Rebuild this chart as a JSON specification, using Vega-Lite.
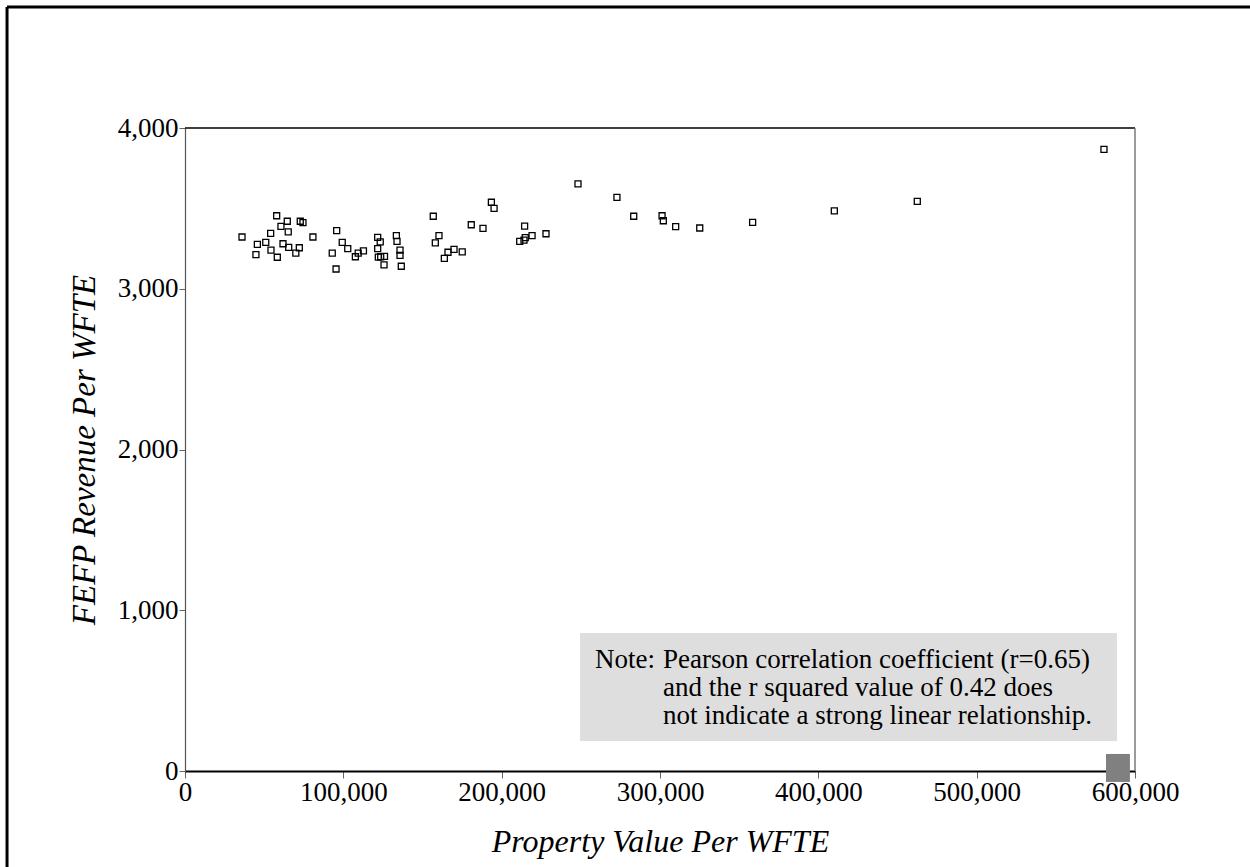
{
  "$schema": "https://vega.github.io/schema/vega-lite/v6.json",
  "width": 950,
  "height": 643,
  "autosize": {"type": "none"},
  "padding": {"left": 185, "top": 128, "right": 115, "bottom": 96},
  "background": "white",
  "config": {
    "view": {"stroke": null},
    "font": "Liberation Serif",
    "axis": {
      "grid": false,
      "labelFlush": false,
      "labelOverlap": false,
      "labelFont": "Liberation Serif",
      "labelFontSize": 27,
      "labelColor": "black",
      "labelPadding": 1,
      "labelExpr": "format(datum.value, ',')",
      "tickColor": "#666",
      "titleFont": "Liberation Serif",
      "titleFontStyle": "italic",
      "titleFontWeight": "normal",
      "titleFontSize": 32,
      "titleColor": "black"
    },
    "axisX": {"tickSize": 7, "domainColor": "black", "domainWidth": 2, "titlePadding": 21},
    "axisY": {"tickSize": 6, "domainColor": "#555", "domainWidth": 1.2, "titlePadding": 16, "titleFontSize": 33, "titleColor": "#000000"}
  },
  "data": {"values": [{}]},
  "datasets": {
    "pts": [
      {"value": 36000, "revenue": 3322},
      {"value": 57900, "revenue": 3454},
      {"value": 64600, "revenue": 3420},
      {"value": 60600, "revenue": 3388},
      {"value": 72800, "revenue": 3420},
      {"value": 74500, "revenue": 3411},
      {"value": 54100, "revenue": 3344},
      {"value": 65200, "revenue": 3354},
      {"value": 80800, "revenue": 3322},
      {"value": 45700, "revenue": 3276},
      {"value": 51000, "revenue": 3288},
      {"value": 61900, "revenue": 3280},
      {"value": 65500, "revenue": 3258},
      {"value": 72200, "revenue": 3255},
      {"value": 54300, "revenue": 3240},
      {"value": 70000, "revenue": 3221},
      {"value": 44800, "revenue": 3212},
      {"value": 58300, "revenue": 3196},
      {"value": 95800, "revenue": 3362},
      {"value": 99300, "revenue": 3288},
      {"value": 102800, "revenue": 3249},
      {"value": 93000, "revenue": 3221},
      {"value": 107600, "revenue": 3199},
      {"value": 109400, "revenue": 3221},
      {"value": 112700, "revenue": 3235},
      {"value": 95400, "revenue": 3123},
      {"value": 121700, "revenue": 3320},
      {"value": 123300, "revenue": 3291},
      {"value": 121700, "revenue": 3250},
      {"value": 122100, "revenue": 3197},
      {"value": 123600, "revenue": 3199},
      {"value": 126000, "revenue": 3201},
      {"value": 125700, "revenue": 3148},
      {"value": 133500, "revenue": 3330},
      {"value": 133900, "revenue": 3295},
      {"value": 135800, "revenue": 3240},
      {"value": 135800, "revenue": 3208},
      {"value": 136600, "revenue": 3140},
      {"value": 156800, "revenue": 3451},
      {"value": 160400, "revenue": 3330},
      {"value": 158100, "revenue": 3286},
      {"value": 169900, "revenue": 3245},
      {"value": 166100, "revenue": 3227},
      {"value": 163800, "revenue": 3189},
      {"value": 175100, "revenue": 3229},
      {"value": 180800, "revenue": 3398},
      {"value": 188200, "revenue": 3376},
      {"value": 193500, "revenue": 3538},
      {"value": 195200, "revenue": 3500},
      {"value": 214500, "revenue": 3390},
      {"value": 219200, "revenue": 3330},
      {"value": 228000, "revenue": 3342},
      {"value": 211400, "revenue": 3295},
      {"value": 214900, "revenue": 3318},
      {"value": 214100, "revenue": 3303},
      {"value": 248200, "revenue": 3653},
      {"value": 272800, "revenue": 3569},
      {"value": 283400, "revenue": 3451},
      {"value": 301300, "revenue": 3454},
      {"value": 302100, "revenue": 3423},
      {"value": 309900, "revenue": 3386},
      {"value": 325100, "revenue": 3378},
      {"value": 358500, "revenue": 3413},
      {"value": 410100, "revenue": 3484},
      {"value": 462500, "revenue": 3544},
      {"value": 580400, "revenue": 3867}
    ]
  },
  "layer": [
    {
      "mark": {"type": "rule", "color": "black", "strokeWidth": 3},
      "encoding": {
        "x": {"datum": -112400, "type": "quantitative"},
        "x2": {"datum": 680000},
        "y": {"datum": 4753, "type": "quantitative"}
      }
    },
    {
      "mark": {"type": "rule", "color": "black", "strokeWidth": 3},
      "encoding": {
        "x": {"datum": -112400, "type": "quantitative"},
        "y": {"datum": 4753, "type": "quantitative"},
        "y2": {"datum": -700}
      }
    },
    {
      "mark": {"type": "rule", "color": "black", "strokeWidth": 1.5},
      "encoding": {
        "x": {"datum": 0, "type": "quantitative"},
        "x2": {"datum": 600000},
        "y": {"datum": 4000, "type": "quantitative"}
      }
    },
    {
      "mark": {"type": "rule", "color": "#7a7a7a", "strokeWidth": 1.5},
      "encoding": {
        "x": {"datum": 600000, "type": "quantitative"},
        "y": {"datum": 0, "type": "quantitative"},
        "y2": {"datum": 4000}
      }
    },
    {
      "mark": {"type": "rect", "color": "#dedede"},
      "encoding": {
        "x": {"datum": 249500, "type": "quantitative"},
        "x2": {"datum": 588600},
        "y": {"datum": 858, "type": "quantitative"},
        "y2": {"datum": 187}
      }
    },
    {
      "mark": {"type": "text", "text": "Note:", "align": "left", "baseline": "middle", "fontSize": 27, "font": "Liberation Serif", "color": "black"},
      "encoding": {
        "x": {"datum": 259000, "type": "quantitative"},
        "y": {"datum": 688, "type": "quantitative"}
      }
    },
    {
      "mark": {"type": "text", "text": "Pearson correlation coefficient (r=0.65)", "align": "left", "baseline": "middle", "fontSize": 27, "font": "Liberation Serif", "color": "black"},
      "encoding": {
        "x": {"datum": 301900, "type": "quantitative"},
        "y": {"datum": 688, "type": "quantitative"}
      }
    },
    {
      "mark": {"type": "text", "text": "and the r squared value of 0.42 does", "align": "left", "baseline": "middle", "fontSize": 27, "font": "Liberation Serif", "color": "black"},
      "encoding": {
        "x": {"datum": 301900, "type": "quantitative"},
        "y": {"datum": 516, "type": "quantitative"}
      }
    },
    {
      "mark": {"type": "text", "text": "not indicate a strong linear relationship.", "align": "left", "baseline": "middle", "fontSize": 27, "font": "Liberation Serif", "color": "black"},
      "encoding": {
        "x": {"datum": 301900, "type": "quantitative"},
        "y": {"datum": 344, "type": "quantitative"}
      }
    },
    {
      "mark": {"type": "rect", "color": "#808080"},
      "encoding": {
        "x": {"datum": 581700, "type": "quantitative"},
        "x2": {"datum": 596800},
        "y": {"datum": 106, "type": "quantitative"},
        "y2": {"datum": -68}
      }
    },
    {
      "data": {"name": "pts"},
      "mark": {"type": "point", "shape": "square", "filled": false, "color": "black", "size": 36, "strokeWidth": 1.3, "opacity": 1},
      "encoding": {
        "x": {
          "field": "value", "type": "quantitative",
          "scale": {"domain": [0, 600000], "nice": false, "zero": false},
          "axis": {
            "values": [0, 100000, 200000, 300000, 400000, 500000, 600000],
            "title": "Property Value Per WFTE"
          }
        },
        "y": {
          "field": "revenue", "type": "quantitative",
          "scale": {"domain": [0, 4000], "nice": false, "zero": false},
          "axis": {
            "values": [0, 1000, 2000, 3000, 4000],
            "title": "FEFP Revenue Per WFTE"
          }
        }
      }
    }
  ]
}
